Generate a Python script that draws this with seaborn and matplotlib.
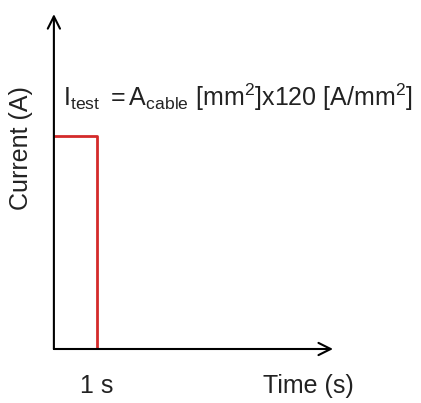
import matplotlib
matplotlib.use('Agg')
import matplotlib.pyplot as plt
import seaborn as sns
import pandas as pd

# test pulse: current held for 1 s, then switched off
time_s = [0, 1, 1]
current = [1, 1, 0]
tick_pos = [1]
tick_labels = ['1 s']

sns.set_style('white')
plt.rcParams['font.family'] = ['Liberation Sans', 'DejaVu Sans']
plt.rcParams['mathtext.fontset'] = 'custom'
plt.rcParams['mathtext.rm'] = 'Liberation Sans'
plt.rcParams['mathtext.it'] = 'Liberation Sans'

df = pd.DataFrame({'time': time_s, 'current': current})

fig = plt.figure(figsize=(4.21, 4.03), dpi=100)
ax = fig.add_axes([0.128, 0.134, 0.663, 0.831])
sns.lineplot(data=df, x='time', y='current', sort=False, estimator=None,
             color='#d42a2a', lw=2, ax=ax)

ax.set_xlim(0, 6.5)
ax.set_ylim(0, 1.57)
for s in ax.spines.values():
    s.set_visible(False)

# axis arrows
arrow = dict(arrowstyle='->', color='black', lw=1.5, mutation_scale=22, shrinkA=0, shrinkB=0)
ax.annotate('', xy=(1, 0), xytext=(0, 0), xycoords='axes fraction', arrowprops=arrow)
ax.annotate('', xy=(0, 1), xytext=(0, 0), xycoords='axes fraction', arrowprops=arrow)

ax.set_xticks(tick_pos)
ax.set_xticklabels(tick_labels, fontsize=18, color='#222222')
ax.set_yticks([])
ax.tick_params(axis='x', length=0, pad=18)

ax.set_xlabel('Time (s)', fontsize=18, color='#222222')
ax.xaxis.set_label_coords(0.91, -0.075)
ax.set_ylabel('Current (A)', fontsize=18, color='#222222')
ax.yaxis.set_label_coords(-0.075, 0.60)

ax.text(0.21, 1.14, r'$\mathrm{I_{test}\ =A_{cable}\ [mm^2]x120\ [A/mm^2]}$',
        fontsize=18, color='#222222', va='baseline')

fig.savefig('out.png', dpi=100)
